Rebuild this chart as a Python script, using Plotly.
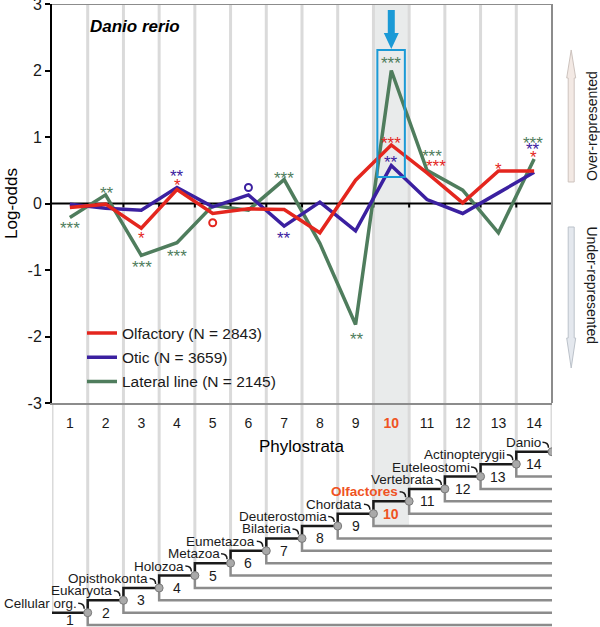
import plotly.graph_objects as go

# ---------------- data ----------------
phylostrata = list(range(1, 15))
tick_labels = [str(p) for p in phylostrata]
clades = ["Cellular org.", "Eukaryota", "Opisthokonta", "Holozoa", "Metazoa",
          "Eumetazoa", "Bilateria", "Deuterostomia", "Chordata", "Olfactores",
          "Vertebrata", "Euteleostomi", "Actinopterygii", "Danio"]
olfactory = [-0.06, -0.01, -0.37, 0.21, -0.15, -0.08, -0.09, -0.44, 0.35, 0.88, 0.46, 0.01, 0.49, 0.49]
otic = [-0.01, -0.07, -0.10, 0.24, -0.05, 0.13, -0.34, 0.02, -0.41, 0.57, 0.06, -0.15, 0.16, 0.47]
lateral = [-0.21, 0.13, -0.78, -0.59, -0.03, -0.10, 0.36, -0.60, -1.82, 2.00, 0.50, 0.20, -0.44, 0.67]
series_names = {"olfactory": "Olfactory (N = 2843)",
                "otic": "Otic (N = 3659)",
                "lateral": "Lateral line (N = 2145)"}
highlight = 10
species = "Danio rerio"

# significance marks: (phylostratum, series, mark, log-odds position, x offset px)
sig_marks = [
    (1, "lateral", "***", -0.32, 0),
    (2, "lateral", "**", 0.21, 1),
    (3, "olfactory", "*", -0.47, 0),
    (3, "lateral", "***", -0.90, 1),
    (4, "otic", "**", 0.46, 0),
    (4, "olfactory", "*", 0.33, 0),
    (4, "lateral", "***", -0.74, 0),
    (7, "lateral", "***", 0.44, 0),
    (7, "otic", "**", -0.46, 0),
    (9, "lateral", "**", -1.98, 1),
    (10, "lateral", "***", 2.16, 0),
    (10, "olfactory", "***", 0.96, 0),
    (10, "otic", "**", 0.68, 0),
    (11, "lateral", "***", 0.76, 5),
    (11, "olfactory", "***", 0.62, 9),
    (13, "olfactory", "*", 0.57, 0),
    (14, "lateral", "***", 0.97, -1),
    (14, "otic", "**", 0.87, -1),
    (14, "olfactory", "*", 0.75, -1),
]
weak_marks = [(5, "olfactory", -0.29), (6, "otic", 0.24)]

# ---------------- style ----------------
colors = {"olfactory": "#e4261e", "otic": "#3b20a0", "lateral": "#4f7d5d"}
values = {"olfactory": olfactory, "otic": otic, "lateral": lateral}
orange = "#ef5323"
cyan = "#1b9ad6"
grid_c = "#dadada"
band_c = "#e9ebeb"
frame_c = "#8c8c8c"
tree_gray = "#8c8c8c"
ink = "#1a1a1a"
FONT = "Liberation Sans, Arial, sans-serif"

W, H = 600, 627
ML, MR, MT, MB = 52, 48, 4, 0
PW, PH = W - ML - MR, H - MT - MB
main_bottom_px = 403
dmain = (H - main_bottom_px) / PH
n = len(phylostrata)
px_x = PW / n                      # px per category
px_y = (main_bottom_px - MT) / 6   # px per log-odds unit
lvl_px = 12.38                     # px per tree level
lvl1_px = 612.7                    # pixel of level 1
lvl_top = 1 + (lvl1_px - main_bottom_px) / lvl_px
lvl_bot = 1 - (H - lvl1_px) / lvl_px


def paper_x(px):
    return (px - ML) / PW


def paper_y(py):
    return (H - MB - py) / PH


fig = go.Figure()

# ---------- tree panel (x / y) ----------
tx, ty = [], []
for k in range(0, n + 1):
    tx += [k + 0.5, k + 0.5, None]
    ty += [lvl_top, max(k, 1), None]
fig.add_trace(go.Scatter(x=tx, y=ty, mode="lines", line=dict(color=grid_c, width=3),
                         xaxis="x", yaxis="y", hoverinfo="skip", showlegend=False))
gx2, gy2 = [], []
for k in range(1, n):
    gx2 += [k + 0.5, k + 0.5, n + 0.5, None]
    gy2 += [k, k - 1, k - 1, None]
fig.add_trace(go.Scatter(x=gx2, y=gy2, mode="lines", line=dict(color=tree_gray, width=2.5),
                         xaxis="x", yaxis="y", hoverinfo="skip", showlegend=False))
bx, by = [0.5], [1]
for k in range(1, n + 1):
    bx += [k + 0.5]
    by += [k]
    if k < n:
        bx += [k + 0.5]
        by += [k + 1]
fig.add_trace(go.Scatter(x=bx, y=by, mode="lines", line=dict(color=ink, width=2.5),
                         xaxis="x", yaxis="y", hoverinfo="skip", showlegend=False))
fig.add_trace(go.Scatter(x=[k + 0.5 for k in phylostrata], y=phylostrata, mode="markers",
                         marker=dict(size=8, color="#a9a9a9", line=dict(color="#7a7a7a", width=1)),
                         xaxis="x", yaxis="y", hoverinfo="skip", showlegend=False))

# ---------- main panel (x2 / y2) ----------
gx, gy = [], []
for k in range(1, n):
    gx += [k + 0.5, k + 0.5, None]
    gy += [-3, 3, None]
fig.add_trace(go.Scatter(x=gx, y=gy, mode="lines", line=dict(color=grid_c, width=3),
                         xaxis="x2", yaxis="y2", hoverinfo="skip", showlegend=False))
fig.add_trace(go.Scatter(x=[0.5, n + 0.5], y=[0, 0], mode="lines", xaxis="x2", yaxis="y2",
                         line=dict(color="black", width=2), hoverinfo="skip", showlegend=False))
zx, zy = [], []
for k in range(1, n):
    zx += [k + 0.5, k + 0.5, None]
    zy += [0, -4 / px_y, None]
fig.add_trace(go.Scatter(x=zx, y=zy, mode="lines", line=dict(color="black", width=2),
                         xaxis="x2", yaxis="y2", hoverinfo="skip", showlegend=False))

rank = {"olfactory": 1, "otic": 2, "lateral": 3}
for key in ["lateral", "otic", "olfactory"]:
    fig.add_trace(go.Scatter(x=phylostrata, y=values[key], mode="lines", name=series_names[key],
                             xaxis="x2", yaxis="y2", legendgroup=key,
                             line=dict(color=colors[key], width=3.5), legendrank=rank[key]))

for p, key, yv in weak_marks:
    fig.add_trace(go.Scatter(x=[p], y=[yv], mode="markers", xaxis="x2", yaxis="y2",
                             marker=dict(symbol="circle-open", size=7, color=colors[key],
                                         line=dict(width=2, color=colors[key])),
                             hoverinfo="skip", showlegend=False))

annotations = []
STAR_FS = 17
for p, key, mark, yv, dx in sig_marks:
    annotations.append(dict(x=p, y=yv, xref="x2", yref="y2", text=mark, showarrow=False,
                            xshift=dx, yshift=-int(0.28 * STAR_FS),
                            xanchor="center", yanchor="middle",
                            font=dict(family=FONT, size=STAR_FS, color=colors[key])))

annotations.append(dict(x=paper_x(88), y=paper_y(27), xref="paper", yref="paper", xanchor="left",
                        yanchor="middle", text="<b><i>%s</i></b>" % species, showarrow=False,
                        font=dict(family=FONT, size=17, color="black")))

shapes = []
for k, name in zip(phylostrata, clades):
    hl = (k == highlight)
    txt = "<b>%s</b>" % name if hl else name
    annotations.append(dict(x=k + 0.5, y=k, xref="x", yref="y", xanchor="right", yanchor="middle",
                            xshift=-9, yshift=9.5, text=txt, showarrow=False,
                            font=dict(family=FONT, size=13.5, color=orange if hl else ink)))
    num = "<b>%d</b>" % k if hl else str(k)
    annotations.append(dict(x=k, y=k - 1 if k > 1 else 0.38, xref="x", yref="y", text=num,
                            showarrow=False, xanchor="center", yanchor="middle",
                            font=dict(family=FONT, size=14, color=orange if hl else ink)))
    x0 = k + 0.5 - 9.5 / px_x
    xc = k + 0.5 - 3.5 / px_x
    y0 = k + 9.5 / lvl_px
    y2 = k + 4 / lvl_px
    shapes.append(dict(type="path", xref="x", yref="y",
                       path="M %f,%f Q %f,%f %f,%f" % (x0, y0, xc, y0, xc, y2),
                       line=dict(color=ink, width=1.5), layer="above"))

annotations.append(dict(x=0.5, y=paper_y(447), xref="paper", yref="paper", text="Phylostrata",
                        showarrow=False, xanchor="center", yanchor="middle",
                        font=dict(family=FONT, size=17, color="black")))

annotations.append(dict(x=paper_x(591.5), y=paper_y(126.5), xref="paper", yref="paper",
                        text="Over-represented", textangle=-90, showarrow=False,
                        xanchor="center", yanchor="middle",
                        font=dict(family=FONT, size=14, color=ink)))
annotations.append(dict(x=paper_x(591.5), y=paper_y(285), xref="paper", yref="paper",
                        text="Under-represented", textangle=90, showarrow=False,
                        xanchor="center", yanchor="middle",
                        font=dict(family=FONT, size=14, color=ink)))

# highlight band (main + tree)
shapes.append(dict(type="rect", xref="x2", yref="y2", x0=highlight - 0.5, x1=highlight + 0.5,
                   y0=-3, y1=3, fillcolor=band_c, line=dict(width=0), layer="below"))
shapes.append(dict(type="rect", xref="x", yref="y", x0=highlight - 0.5, x1=highlight + 0.5,
                   y0=highlight - 2, y1=lvl_top, fillcolor=band_c, line=dict(width=0), layer="below"))

# highlight box and arrow
hi = highlight - 1
box_top = lateral[hi] + 0.31
box_bot = otic[hi] - 0.17
shapes.append(dict(type="rect", xref="x2", yref="y2", x0=highlight - 0.39, x1=highlight + 0.38,
                   y0=box_bot, y1=box_top, line=dict(color=cyan, width=2), layer="above"))
sw, hw = 3.5 / px_x, 7.5 / px_x
a_top = 3 - 6 / px_y
a_head = box_top + 17 / px_y
a_tip = box_top + 1 / px_y
c = highlight
shapes.append(dict(type="path", xref="x2", yref="y2",
                   path="M %f,%f L %f,%f L %f,%f L %f,%f L %f,%f L %f,%f L %f,%f Z" % (
                       c - sw, a_top, c + sw, a_top, c + sw, a_head, c + hw, a_head,
                       c, a_tip, c - hw, a_head, c - sw, a_head),
                   fillcolor=cyan, line=dict(width=0), layer="above"))


def vert_arrow(cx, y_tail, y_tip, head_len, fill, edge):
    s = 1 if y_tip > y_tail else -1
    yh = y_tip - s * head_len
    pts = [(cx - 3, y_tail), (cx + 3, y_tail), (cx + 3, yh), (cx + 4.5, yh), (cx, y_tip),
           (cx - 4.5, yh), (cx - 3, yh)]
    path = "M " + " L ".join("%f,%f" % (paper_x(a), paper_y(b)) for a, b in pts) + " Z"
    return dict(type="path", xref="paper", yref="paper", path=path, fillcolor=fill,
                line=dict(color=edge, width=1), layer="above")


shapes.append(vert_arrow(571.2, 182, 50, 28, "#f3e9e4", "#cdc3be"))
shapes.append(vert_arrow(571.2, 227, 368, 30, "#e4e8ee", "#bcc2ca"))

shapes.append(dict(type="line", xref="paper", yref="y2", x0=0, x1=1, y0=3, y1=3,
                   line=dict(color=frame_c, width=2), layer="above"))
shapes.append(dict(type="line", xref="paper", yref="y2", x0=1, x1=1, y0=-3, y1=3,
                   line=dict(color=frame_c, width=2), layer="above"))

ticktext = ['<span style="color:%s"><b>%s</b></span>' % (orange, t) if p == highlight else t
            for p, t in zip(phylostrata, tick_labels)]

fig.update_layout(
    width=W, height=H,
    margin=dict(l=ML, r=MR, t=MT, b=MB, autoexpand=False),
    paper_bgcolor="white", plot_bgcolor="rgba(0,0,0,0)",
    font=dict(family=FONT, color="black"),
    xaxis=dict(range=[0.5, n + 0.5], anchor="y", visible=False),
    yaxis=dict(domain=[0, dmain], range=[lvl_bot, lvl_top], visible=False, anchor="x"),
    xaxis2=dict(range=[0.5, n + 0.5], anchor="y2", tickmode="array", tickvals=phylostrata,
                ticktext=ticktext, showgrid=False, zeroline=False, showline=True,
                linecolor=frame_c, linewidth=2, ticks="", ticklabelstandoff=6, automargin=False,
                tickfont=dict(family=FONT, size=14, color=ink)),
    yaxis2=dict(domain=[dmain, 1], range=[-3, 3], anchor="x2", tickmode="array",
                tickvals=[-3, -2, -1, 0, 1, 2, 3], ticktext=["-3", "-2", "-1", "0", "1", "2", "3"],
                showgrid=False, zeroline=False, showline=True, linecolor="black", linewidth=2,
                ticks="outside", ticklen=5, tickwidth=2, tickcolor="black", automargin=False,
                ticklabeloverflow="allow",
                tickfont=dict(family=FONT, size=16, color=ink),
                title=dict(text="Log-odds", font=dict(family=FONT, size=17, color="black"), standoff=6)),
    legend=dict(x=paper_x(82), y=paper_y(316.5), xanchor="left", yanchor="top",
                bgcolor="rgba(0,0,0,0)", font=dict(family=FONT, size=15.5, color=ink),
                traceorder="grouped", tracegroupgap=1),
    showlegend=True,
    annotations=annotations,
    shapes=shapes,
)

fig.write_html("out.html", config={"displayModeBar": False},
               post_script="document.body.style.margin='0px';document.body.style.overflow='hidden';")
